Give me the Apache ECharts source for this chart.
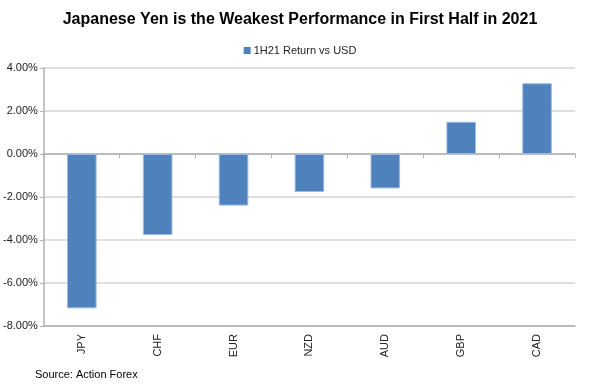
<!DOCTYPE html>
<html><head><meta charset="utf-8">
<script src="https://cdn.jsdelivr.net/npm/echarts@6/dist/echarts.min.js"></script>
<style>html,body{margin:0;padding:0;background:#fff}#c{width:600px;height:389px}</style>
</head><body><div id="c"></div>
<script>
const categories = ['JPY','CHF','EUR','NZD','AUD','GBP','CAD'];
const returns = [-7.18, -3.77, -2.40, -1.77, -1.60, 1.50, 3.29];
const seriesName = '1H21 Return vs USD';
const titleText = 'Japanese Yen is the Weakest Performance in First Half in 2021';
const sourceText = 'Source: Action Forex';

const chart = echarts.init(document.getElementById('c'));
chart.setOption({
  animation: false,
  backgroundColor: '#fff',
  textStyle: { fontFamily: 'Liberation Sans, Arial, sans-serif' },
  title: [{
    text: titleText, left: 'center', top: 7,
    textStyle: { fontSize: 16, fontWeight: 'bold', color: '#000', fontFamily: 'Liberation Sans, Arial, sans-serif' }
  }, {
    text: sourceText, left: 30, top: 364,
    textStyle: { fontSize: 11, fontWeight: 'normal', color: '#000', fontFamily: 'Liberation Sans, Arial, sans-serif' }
  }],
  legend: {
    top: 40, left: 'center', itemWidth: 7, itemHeight: 7, itemGap: 5,
    icon: 'rect',
    itemStyle: { borderWidth: 0 },
    textStyle: { fontSize: 11, color: '#222', padding: [0,0,0,-2] },
    data: [seriesName]
  },
  grid: { left: 41, right: 25, top: 68, bottom: 63, containLabel: false },
  xAxis: [{
    type: 'category', data: categories, position: 'bottom',
    axisLine: { onZero: false, lineStyle: { color: '#b0b0b0', width: 1.5 } },
    axisTick: { show: false },
    axisLabel: { rotate: 90, fontSize: 11, color: '#222', margin: 8 }
  }, {
    type: 'category', data: categories, position: 'top',
    axisLine: { onZero: true, lineStyle: { color: '#b0b0b0', width: 1.5 } },
    axisTick: { show: true, inside: true, length: 4, lineStyle: { color: '#b0b0b0' } },
    axisLabel: { show: false }
  }],
  yAxis: {
    type: 'value', min: -8, max: 4, interval: 2,
    axisLine: { show: true, lineStyle: { color: '#b0b0b0', width: 1.5 } },
    axisTick: { show: true, length: 4, lineStyle: { color: '#b0b0b0' } },
    splitLine: { lineStyle: { color: '#d4d4d4', width: 1.5 } },
    axisLabel: { fontSize: 11, color: '#222', margin: 6, formatter: v => v.toFixed(2) + '%' }
  },
  series: [{
    name: seriesName, type: 'bar', data: returns, barWidth: '39%',
    xAxisIndex: 0,
    itemStyle: { color: '#4f81bd', borderColor: '#9dbbe0', borderWidth: 1 }
  }]
});
</script></body></html>
